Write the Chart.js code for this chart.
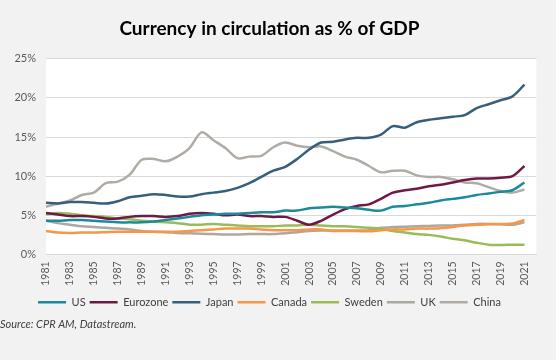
<!DOCTYPE html>
<html><head><meta charset="utf-8">
<script src="https://cdn.jsdelivr.net/npm/chart.js@4"></script>
<style>html,body{margin:0;padding:0;background:#f2f2f2}</style>
</head><body>
<canvas id="c" width="556" height="360"></canvas>
<script>
const years = ['1981','1982','1983','1984','1985','1986','1987','1988','1989','1990','1991','1992','1993','1994','1995','1996','1997','1998','1999','2000','2001','2002','2003','2004','2005','2006','2007','2008','2009','2010','2011','2012','2013','2014','2015','2016','2017','2018','2019','2020','2021','2022'];

const us       = [4.3,4.3,4.4,4.4,4.3,4.2,4.1,4.1,4.1,4.2,4.4,4.6,4.8,5.0,5.1,5.2,5.2,5.3,5.4,5.4,5.6,5.6,5.9,6.0,6.1,6.0,5.9,5.7,5.6,6.1,6.2,6.4,6.6,6.9,7.1,7.3,7.6,7.8,8.0,8.2,9.2];
const eurozone = [5.3,5.1,4.9,4.9,4.8,4.6,4.6,4.8,4.9,4.9,4.8,4.9,5.2,5.3,5.2,5.0,5.1,4.9,4.9,4.8,4.8,4.3,3.8,4.3,5.1,5.8,6.2,6.4,7.1,7.9,8.2,8.4,8.7,8.9,9.2,9.5,9.7,9.7,9.8,10.0,11.3];
const japan    = [6.6,6.5,6.7,6.7,6.6,6.5,6.8,7.3,7.5,7.7,7.6,7.4,7.4,7.7,7.9,8.1,8.5,9.1,9.9,10.7,11.2,12.2,13.4,14.3,14.4,14.7,14.9,14.9,15.3,16.4,16.2,16.9,17.2,17.4,17.6,17.8,18.7,19.2,19.7,20.2,21.7];
const canada   = [3.0,2.8,2.75,2.8,2.8,2.85,2.9,2.9,2.9,2.9,2.9,2.9,3.0,3.1,3.2,3.3,3.3,3.3,3.2,3.1,3.1,3.1,3.2,3.2,3.0,3.0,3.0,2.95,3.1,3.2,3.2,3.3,3.3,3.35,3.5,3.7,3.8,3.85,3.9,3.95,4.4];
const sweden   = [5.1,5.3,5.2,5.0,4.9,4.8,4.6,4.5,4.3,4.2,4.1,4.0,3.8,3.8,3.9,3.8,3.7,3.6,3.6,3.6,3.7,3.7,3.8,3.7,3.6,3.6,3.5,3.4,3.3,3.0,2.8,2.6,2.5,2.3,2.0,1.8,1.5,1.25,1.2,1.25,1.25];
const uk       = [4.3,4.0,3.8,3.6,3.5,3.4,3.3,3.2,3.0,2.9,2.85,2.75,2.7,2.65,2.6,2.55,2.55,2.6,2.6,2.6,2.7,2.85,3.0,3.05,3.05,3.05,3.05,3.1,3.4,3.5,3.55,3.6,3.65,3.7,3.7,3.8,3.9,3.9,3.85,3.8,4.1];
const china    = [6.1,6.5,6.9,7.6,7.9,9.1,9.3,10.2,12.1,12.2,11.9,12.5,13.6,15.6,14.6,13.6,12.3,12.5,12.6,13.7,14.3,13.9,13.7,13.8,13.2,12.5,12.1,11.3,10.5,10.7,10.7,10.1,9.9,9.9,9.6,9.2,9.1,8.6,8.1,7.9,8.3];

const yTicks = [0,5,10,15,20,25];

const bg = {
  id: 'bg',
  beforeDraw(chart) {
    const {ctx, chartArea: a} = chart;
    ctx.save();
    ctx.fillStyle = '#f2f2f2';
    ctx.fillRect(0, 0, chart.width, chart.height);
    ctx.fillStyle = '#ffffff';
    ctx.fillRect(a.left, a.top, a.right - a.left, a.bottom - a.top);
    ctx.restore();
  }
};

const FONT = 'Lato';
function ds(label, data, color) {
  return {label, data, borderColor: color, backgroundColor: color, borderWidth: 2.5,
          pointRadius: 0, tension: 0.3, fill: false};
}

new Chart(document.getElementById('c'), {
  type: 'line',
  data: {
    labels: years,
    datasets: [
      ds('US', us, '#1a8a9c'),
      ds('Eurozone', eurozone, '#6e1a45'),
      ds('Japan', japan, '#365f7c'),
      ds('Canada', canada, '#f79646'),
      ds('Sweden', sweden, '#9bbb59'),
      ds('UK', uk, '#aca7a1'),
      ds('China', china, '#b1aba5')
    ]
  },
  options: {
    responsive: false,
    animation: false,
    devicePixelRatio: 1,
    layout: {padding: {top: 8, left: 0, right: 17, bottom: 29}},
    plugins: {
      title: {display: true, text: 'Currency in circulation as % of GDP', color: '#000',
              font: {family: FONT, size: 19, weight: 'bold'}, padding: {top: 9, bottom: 19}},
      subtitle: {display: true, text: 'Source: CPR AM, Datastream.', position: 'bottom', align: 'start',
                 color: '#404040', font: {family: FONT, size: 11, style: 'italic'}, padding: {top: 0, bottom: 0}},
      legend: {position: 'bottom',
               labels: {usePointStyle: true, pointStyle: 'line', pointStyleWidth: 28, padding: 4,
                        color: '#404040', font: {family: FONT, size: 11}}},
      tooltip: {enabled: false}
    },
    scales: {
      x: {
        grid: {display: false, drawTicks: false},
        border: {display: true, color: '#d9d9d9'},
        ticks: {autoSkip: false, maxRotation: 90, minRotation: 90, padding: 7, color: '#595959',
                font: {family: FONT, size: 10.5},
                callback: function(v, i) { return (i % 2 === 0 && i < 41) ? this.getLabelForValue(v) : ''; }}
      },
      y: {
        min: 0, max: 25,
        afterBuildTicks: s => { s.ticks = yTicks.map(v => ({value: v})); },
        afterFit: s => { s.width = 46; },
        grid: {color: '#d9d9d9', drawTicks: false},
        border: {display: false},
        ticks: {padding: 10, color: '#595959', font: {family: FONT, size: 11},
                callback: v => v + '%'}
      }
    }
  },
  plugins: [bg]
});
</script>
</body></html>
